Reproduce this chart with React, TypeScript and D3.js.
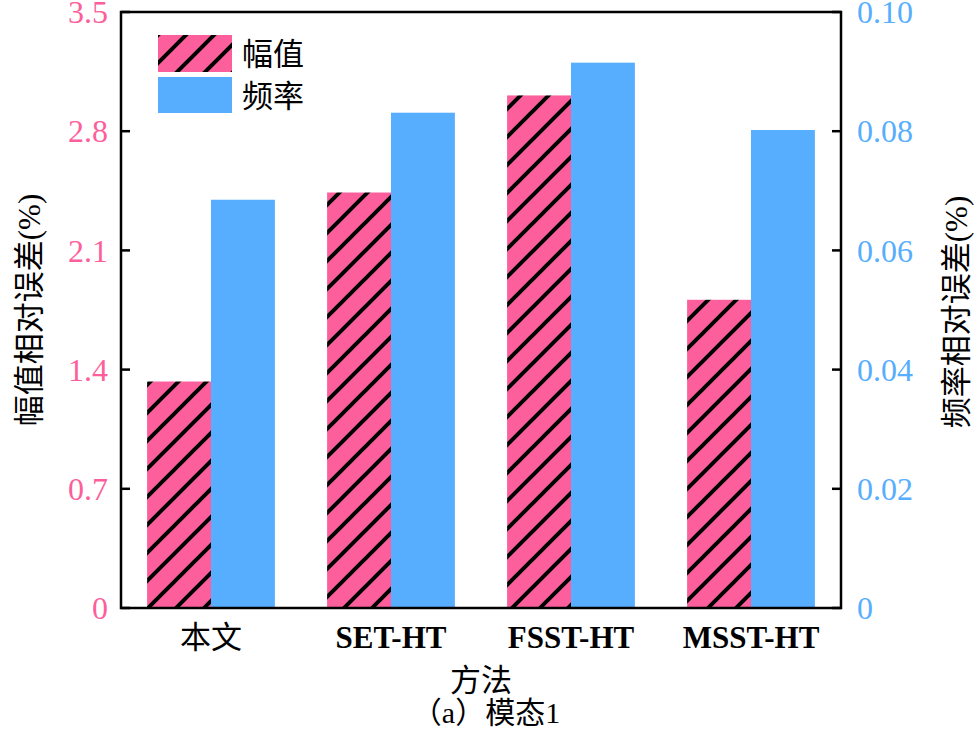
import { useEffect, useRef } from "react"
import * as d3 from "d3"

const methods = ["本文", "SET-HT", "FSST-HT", "MSST-HT"]
const ampErr = [1.33, 2.44, 3.01, 1.81]
const freqErr = [0.0685, 0.0831, 0.0915, 0.0802]
const leftTicks = [0, 0.7, 1.4, 2.1, 2.8, 3.5]
const rightTicks = [0, 0.02, 0.04, 0.06, 0.08, 0.1]
const seriesNames = ["幅值", "频率"]

const PINK = "#fc5f9b"
const BLUE = "#58aefe"
const FONT = "'Liberation Serif', 'Times New Roman', 'Noto Sans CJK SC', serif"

export default function App() {
  const ref = useRef<SVGSVGElement>(null)
  useEffect(() => {
    if (!ref.current) return
    const W = 977, H = 732
    const m = { left: 121, right: 841, top: 12, bottom: 608 }
    const svg = d3.select(ref.current)
    svg.selectAll("*").remove()

    // hatch pattern
    const defs = svg.append("defs")
    const pat = defs.append("pattern").attr("id", "hatch").attr("patternUnits", "userSpaceOnUse")
      .attr("width", 28).attr("height", 28).attr("x", 0).attr("y", 0)
    pat.append("rect").attr("width", 28).attr("height", 28).attr("fill", PINK)
    pat.append("path").attr("d", "M-7,7 L7,-7 M0,28 L28,0 M21,35 L35,21")
      .attr("stroke", "#000").attr("stroke-width", 4)

    const x0 = d3.scaleBand().domain(methods).range([m.left, m.right]).paddingInner(0.29).paddingOuter(0.145)
    const x1 = d3.scaleBand().domain(seriesNames).range([0, x0.bandwidth()])
    const yL = d3.scaleLinear().domain([0, 3.5]).range([m.bottom, m.top])
    const yR = d3.scaleLinear().domain([0, 0.1]).range([m.bottom, m.top])

    // bars
    methods.forEach((k, i) => {
      svg.append("rect").attr("x", x0(k)! + x1("幅值")!).attr("y", yL(ampErr[i]))
        .attr("width", x1.bandwidth()).attr("height", yL(0) - yL(ampErr[i])).attr("fill", "url(#hatch)")
      svg.append("rect").attr("x", x0(k)! + x1("频率")!).attr("y", yR(freqErr[i]))
        .attr("width", x1.bandwidth()).attr("height", yR(0) - yR(freqErr[i])).attr("fill", BLUE)
    })

    // frame
    svg.append("rect").attr("x", m.left).attr("y", m.top).attr("width", m.right - m.left)
      .attr("height", m.bottom - m.top).attr("fill", "none").attr("stroke", "#000").attr("stroke-width", 2.5)

    // left axis
    leftTicks.forEach(t => {
      svg.append("line").attr("x1", m.left).attr("x2", m.left + 9).attr("y1", yL(t)).attr("y2", yL(t))
        .attr("stroke", "#000").attr("stroke-width", 2.5)
      svg.append("text").attr("x", m.left - 13).attr("y", yL(t)).attr("dy", "0.35em").attr("text-anchor", "end")
        .style("fill", PINK).style("font-size", "32px").style("font-family", FONT).text(t === 0 ? "0" : d3.format(".1f")(t))
    })
    // right axis
    rightTicks.forEach(t => {
      svg.append("line").attr("x1", m.right - 9).attr("x2", m.right).attr("y1", yR(t)).attr("y2", yR(t))
        .attr("stroke", "#000").attr("stroke-width", 2.5)
      svg.append("text").attr("x", m.right + 16).attr("y", yR(t)).attr("dy", "0.35em").attr("text-anchor", "start")
        .style("fill", BLUE).style("font-size", "32px").style("font-family", FONT).text(t === 0 ? "0" : d3.format(".2f")(t))
    })

    // category labels
    methods.forEach(k => {
      svg.append("text").attr("x", x0(k)! + x0.bandwidth() / 2).attr("y", 648).attr("text-anchor", "middle")
        .style("fill", "#000").style("font-size", "31px").style("font-family", FONT)
        .style("font-weight", k === "本文" ? "normal" : "bold").text(k)
    })

    // axis titles
    svg.append("text").attr("x", 481).attr("y", 691).attr("text-anchor", "middle")
      .style("font-size", "31px").style("font-family", FONT).text("方法")
    svg.append("text").attr("x", 486).attr("y", 723).attr("text-anchor", "middle")
      .style("font-size", "30px").style("font-family", FONT).text("（a）模态1")
    svg.append("text").attr("transform", `translate(40,${310}) rotate(-90)`).attr("text-anchor", "middle")
      .style("font-size", "31px").style("font-family", FONT).text("幅值相对误差(%)")
    svg.append("text").attr("transform", `translate(967,${312}) rotate(-90)`).attr("text-anchor", "middle")
      .style("font-size", "31px").style("font-family", FONT).text("频率相对误差(%)")

    // legend
    const lg = svg.append("g").attr("transform", "translate(158,35)")
    lg.append("rect").attr("width", 74).attr("height", 37).attr("fill", "url(#hatch)")
    lg.append("rect").attr("y", 42).attr("width", 74).attr("height", 36).attr("fill", BLUE)
    seriesNames.forEach((s, i) => {
      lg.append("text").attr("x", 84).attr("y", 19 + i * 42).attr("dy", "0.35em")
        .style("font-size", "31px").style("font-family", FONT).text(s)
    })
    svg.attr("width", W).attr("height", H)
  }, [])
  return <svg ref={ref} width={977} height={732} style={{ position: "absolute", left: 0, top: 0, background: "#fff" }} />
}
